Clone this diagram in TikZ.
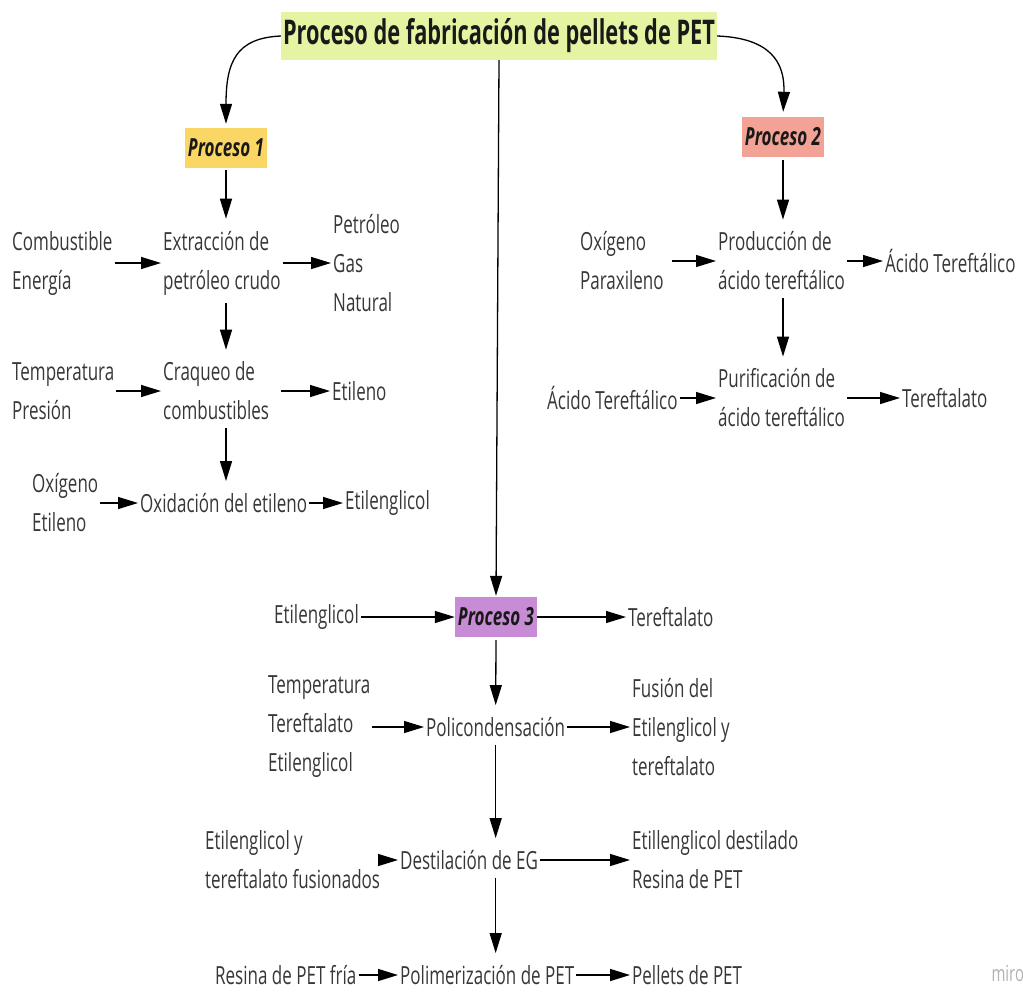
\documentclass[tikz,border=0pt]{standalone}
\usepackage{fontspec}
\setmainfont[FakeStretch=0.68]{Open Sans}
\newfontfamily\titlefont[FakeStretch=0.64]{Open Sans}
\usetikzlibrary{arrows.meta}
\definecolor{lime}{RGB}{229,244,162}
\definecolor{pone}{RGB}{250,215,100}
\definecolor{ptwo}{RGB}{243,162,150}
\definecolor{pthree}{RGB}{200,140,215}
\definecolor{txtgray}{RGB}{55,55,55}
\begin{document}
\begin{tikzpicture}[x=1pt,y=-1pt,
  font=\fontsize{25}{39}\selectfont,
  txt/.style={anchor=west, align=left, inner sep=2pt, text=txtgray},
  pbox/.style={minimum height=40pt, inner xsep=3pt, inner ysep=2pt, text=black!90, font=\fontsize{25}{30}\selectfont\bfseries\itshape},
  arr/.style={-{Triangle[length=20pt,width=12pt]}, line width=1.3pt},
  varr/.style={arr, shorten <=6pt, shorten >=10pt}]
\useasboundingbox (0,0) rectangle (1023,994);
% title
\node[fill=lime, minimum height=48pt, inner xsep=2pt, text=black!90] (T) at (499,36)
  {\titlefont\bfseries\fontsize{34}{40}\selectfont Proceso de fabricación de pellets de PET};
% process boxes
\node[pbox, fill=pone] (P1) at (226,148) {Proceso 1};
\node[pbox, fill=ptwo] (P2) at (783,137) {Proceso 2};
\node[pbox, fill=pthree] (P3) at (496,617) {Proceso 3};
% process 1
\node[txt] (comb) at (10,263) {Combustible\\Energía};
\node[txt] (ext) at (161,263) {Extracción de\\petróleo crudo};
\node[txt] (pet) at (331,263) {Petróleo\\Gas\\Natural};
\node[txt] (temp) at (10,391) {Temperatura\\Presión};
\node[txt] (craq) at (161,391) {Craqueo de\\combustibles};
\node[txt] (etil) at (330,391) {Etileno};
\node[txt] (oxe) at (30,503) {Oxígeno\\Etileno};
\node[txt] (oxid) at (138,503) {Oxidación del etileno};
\node[txt] (eg1) at (343,503) {Etilenglicol};
% process 2
\node[txt] (oxp) at (578,261) {Oxígeno\\Paraxileno};
\node[txt] (prod) at (716,261) {Producción de\\ácido tereftálico};
\node[txt] (at1) at (883,261) {Ácido Tereftálico};
\node[txt] (at2) at (545,398) {Ácido Tereftálico};
\node[txt] (puri) at (716,398) {Purificación de\\ácido tereftálico};
\node[txt] (tf1) at (900,398) {Tereftalato};
% process 3
\node[txt] (eg2) at (272,617) {Etilenglicol};
\node[txt] (tf2) at (626,617) {Tereftalato};
\node[txt] (tte) at (266,727) {Temperatura\\Tereftalato\\Etilenglicol};
\node[txt] (poli) at (424,727) {Policondensación};
\node[txt] (fus) at (630,727) {Fusión del\\Etilenglicol y\\tereftalato};
\node[txt] (etf) at (203,860) {Etilenglicol y\\tereftalato fusionados};
\node[txt] (dest) at (398,860) {Destilación de EG};
\node[txt] (egd) at (630,860) {Etillenglicol destilado\\Resina de PET};
\node[txt] (rpf) at (213,975) {Resina de PET fría};
\node[txt] (polim) at (398,975) {Polimerización de PET};
\node[txt] (pel) at (630,975) {Pellets de PET};
\node[anchor=west, text=black!30, font=\fontsize{22}{22}\selectfont] (miro) at (988,974) {miro};
% title connectors
\draw[arr, shorten >=4pt] (T.west) .. controls (236,38) and (226,62) .. (P1.north);
\draw[arr, shorten >=5pt] (T.east) .. controls (770,38) and (785,62) .. (P2.north);
\draw[arr, shorten >=1pt] (T.south) -- (P3.north);
% vertical
\draw[varr, shorten <=2pt] (P1.south) -- (P1.south |- ext.north);
\draw[varr] (P1.south |- ext.south) -- (P1.south |- craq.north);
\draw[varr] (P1.south |- craq.south) -- (P1.south |- oxid.north);
\draw[varr, shorten <=3pt] (P2.south) -- (P2.south |- prod.north);
\draw[varr] (P2.south |- prod.south) -- (P2.south |- puri.north);
\draw[varr, shorten <=3pt] (P3.south) -- (poli.north);
\draw[varr] (poli.south) -- (poli.south |- dest.north);
\draw[varr] (poli.south |- dest.south) -- (poli.south |- polim.north);
% horizontal
\draw[arr] (comb.east) -- (ext.west);
\draw[arr] (ext.east) -- (pet.west);
\draw[arr] (temp.east) -- (craq.west);
\draw[arr, shorten <=10pt] (craq.east) -- (etil.west);
\draw[arr] (oxe.east) -- (oxid.west);
\draw[arr] (oxid.east) -- (eg1.west);
\draw[arr, shorten <=6pt] (oxp.east) -- (prod.west);
\draw[arr] (prod.east) -- (at1.west);
\draw[arr] (at2.east) -- (puri.west);
\draw[arr] (puri.east) -- (tf1.west);
\draw[arr] (eg2.east) -- (P3.west);
\draw[arr] (P3.east) -- (tf2.west);
\draw[arr] (tte.east) -- (poli.west);
\draw[arr] (poli.east) -- (fus.west);
\draw[arr] (etf.east) -- (dest.west);
\draw[arr] (dest.east) -- (egd.west);
\draw[arr] (rpf.east) -- (polim.west);
\draw[arr] (polim.east) -- (pel.west);
\end{tikzpicture}
\end{document}
